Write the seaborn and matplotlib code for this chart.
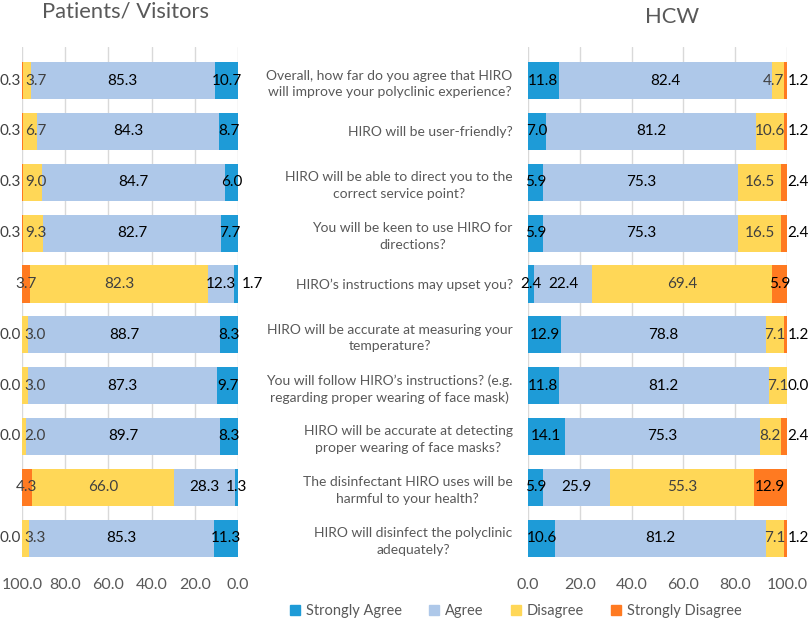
import matplotlib
matplotlib.use("Agg")
import matplotlib.pyplot as plt
import matplotlib.transforms as mtransforms
import seaborn as sns
import pandas as pd
import numpy as np

questions = [
    "Overall, how far do you agree that HIRO\nwill improve your polyclinic experience?",
    "HIRO will be user-friendly?",
    "HIRO will be able to direct you to the\ncorrect service point?",
    "You will be keen to use HIRO for\ndirections?",
    "HIRO\u2019s instructions may upset you?",
    "HIRO will be accurate at measuring your\ntemperature?",
    "You will follow HIRO\u2019s instructions? (e.g.\nregarding proper wearing of face mask)",
    "HIRO will be accurate at detecting\nproper wearing of face masks?",
    "The disinfectant HIRO uses will be\nharmful to your health?",
    "HIRO will disinfect the polyclinic\nadequately?",
]
categories = ["Strongly Agree", "Agree", "Disagree", "Strongly Disagree"]

pv_strongly_agree = [10.7, 8.7, 6.0, 7.7, 1.7, 8.3, 9.7, 8.3, 1.3, 11.3]
pv_agree = [85.3, 84.3, 84.7, 82.7, 12.3, 88.7, 87.3, 89.7, 28.3, 85.3]
pv_disagree = [3.7, 6.7, 9.0, 9.3, 82.3, 3.0, 3.0, 2.0, 66.0, 3.3]
pv_strongly_disagree = [0.3, 0.3, 0.3, 0.3, 3.7, 0.0, 0.0, 0.0, 4.3, 0.0]

hcw_strongly_agree = [11.8, 7.0, 5.9, 5.9, 2.4, 12.9, 11.8, 14.1, 5.9, 10.6]
hcw_agree = [82.4, 81.2, 75.3, 75.3, 22.4, 78.8, 81.2, 75.3, 25.9, 81.2]
hcw_disagree = [4.7, 10.6, 16.5, 16.5, 69.4, 7.1, 7.1, 8.2, 55.3, 7.1]
hcw_strongly_disagree = [1.2, 1.2, 2.4, 2.4, 5.9, 1.2, 0.0, 2.4, 12.9, 1.2]

x_ticks = [0, 20, 40, 60, 80, 100]

colors = ["#1E9BD7", "#AEC8E9", "#FFD757", "#FF7A21"]
label_colors_left = ["black", "black", "#404040", "#404040"]
label_colors_right = ["black", "black", "#404040", "black"]
gray = "#595959"

sns.set_theme(style="white")
plt.rcParams["font.family"] = ["Lato", "DejaVu Sans"]

fig = plt.figure(figsize=(8.09, 6.2), dpi=100)
ax_l = fig.add_axes([22 / 809, 1 - 557 / 620, (238 - 22) / 809, (557 - 47) / 620])
ax_r = fig.add_axes([528 / 809, 1 - 557 / 620, (787 - 528) / 809, (557 - 47) / 620])


def draw_panel(ax, series, label_colors, left_panel):
    arr = np.array(series, dtype=float)  # shape (4, n)
    cum = np.cumsum(arr, axis=0)
    n = arr.shape[1]
    for k in range(3, -1, -1):
        df = pd.DataFrame({"value": cum[k], "question": questions})
        sns.barplot(data=df, x="value", y="question", orient="h", color=colors[k],
                    width=0.73, saturation=1, ax=ax, edgecolor="none", linewidth=0,
                    zorder=3)
    ax.set_xlim(0, 100)
    if left_panel:
        ax.invert_xaxis()
    ax.set_ylim(9.37, -0.66)
    ax.set_xticks(x_ticks)
    ax.set_xticklabels([f"{t:.1f}" for t in x_ticks], color=gray, fontsize=11.5)
    ax.tick_params(axis="x", length=0, pad=15)
    ax.xaxis.grid(True, color="#D9D9D9", linewidth=1, zorder=0)
    ax.set_axisbelow(True)
    for s in ax.spines.values():
        s.set_visible(False)
    ax.set_xlabel("")
    ax.set_ylabel("")

    fs = 11
    for i in range(n):
        for k in range(4):
            v = arr[k, i]
            start = cum[k, i] - v
            center = start + v / 2
            txt = f"{v:.1f}"
            c = label_colors[k]
            if left_panel:
                if k == 3 and v < 1:
                    tr = mtransforms.offset_copy(ax.transData, fig=fig, x=-1, y=0, units="points")
                    ax.text(100, i, txt, ha="right", va="center", fontsize=fs, color=c,
                            transform=tr, zorder=5)
                elif k == 2 and v < 10:
                    tr = mtransforms.offset_copy(ax.transData, fig=fig, x=2, y=0, units="points")
                    ax.text(100 - arr[3, i], i, txt, ha="left", va="center", fontsize=fs,
                            color=c, transform=tr, zorder=5)
                elif k == 0 and v < 2 and arr[1, i] < 20:
                    tr = mtransforms.offset_copy(ax.transData, fig=fig, x=3, y=0, units="points")
                    ax.text(0, i, txt, ha="left", va="center", fontsize=fs, color=c,
                            transform=tr, zorder=5)
                else:
                    ax.text(center, i, txt, ha="center", va="center", fontsize=fs,
                            color=c, zorder=5)
            else:
                if k == 3 and v < 3:
                    tr = mtransforms.offset_copy(ax.transData, fig=fig, x=0.5, y=0, units="points")
                    ax.text(100, i, txt, ha="left", va="center", fontsize=fs, color=c,
                            transform=tr, zorder=5)
                elif k == 2 and v < 6:
                    ax.text(cum[k, i], i, txt, ha="right", va="center", fontsize=fs,
                            color=c, zorder=5)
                else:
                    ax.text(center, i, txt, ha="center", va="center", fontsize=fs,
                            color=c, zorder=5)


draw_panel(ax_l, [pv_strongly_agree, pv_agree, pv_disagree, pv_strongly_disagree],
           label_colors_left, True)
draw_panel(ax_r, [hcw_strongly_agree, hcw_agree, hcw_disagree, hcw_strongly_disagree],
           label_colors_right, False)

ax_l.set_yticks([])
ax_r.set_yticks(range(len(questions)))
ax_r.set_yticklabels(questions, color=gray, fontsize=10)
ax_r.tick_params(axis="y", length=0, pad=11)
for t in ax_r.get_yticklabels():
    t.set_multialignment("center")
    t.set_linespacing(1.45)

fig.text(126 / 809, 1 - 12 / 620, "Patients/ Visitors", ha="center", va="center",
         fontsize=15.8, color=gray)
fig.text(672 / 809, 1 - 17 / 620, "HCW", ha="center", va="center",
         fontsize=15.8, color=gray)

handles = [plt.Rectangle((0, 0), 1, 1, color=c) for c in colors]
fig.legend(handles, categories, loc="center", bbox_to_anchor=(516 / 809, 1 - 611 / 620),
           ncol=4, frameon=False, fontsize=10.5, handlelength=0.7, handleheight=0.7,
           columnspacing=1.85, handletextpad=0.4, labelcolor=gray)

fig.savefig("out.png", dpi=100)
